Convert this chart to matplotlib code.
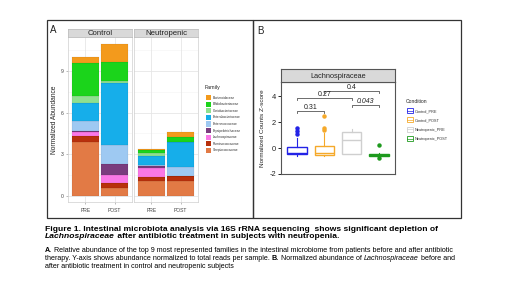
import matplotlib
matplotlib.use('Agg')
import matplotlib.pyplot as plt
from matplotlib.patches import Rectangle
from matplotlib import font_manager

W, H = 520, 292

# panel A: stacked family abundances (legend order)
families = ['Bacteroidaceae', 'Bifidobacteriaceae', 'Coriobacteriaceae', 'Enterobacteriaceae',
            'Enterococcaceae', 'Erysipelotrichaceae', 'Lachnospiraceae', 'Ruminococcaceae',
            'Streptococcaceae']
family_colors = ['#F39A1C', '#1BD41B', '#8FE08F', '#16AEEA', '#9EC9F2', '#7A3C7E',
                 '#FA78E6', '#B8300C', '#E27A45']
control_pre = [0.45, 2.33, 0.55, 1.25, 0.72, 0.10, 0.25, 0.43, 3.91]
control_post = [1.32, 1.34, 0.17, 4.44, 1.37, 0.79, 0.60, 0.36, 0.55]
neutro_pre = [0.07, 0.24, 0.17, 0.65, 0.05, 0.19, 0.65, 0.31, 1.03]
neutro_post = [0.41, 0.36, 0.00, 1.75, 0.67, 0.00, 0.00, 0.36, 1.08]
timepoints = ['PRE', 'POST']
facets = ['Control', 'Neutropenic']

# panel B: Lachnospiraceae z-scores
conditions = ['Control_PRE', 'Control_POST', 'Neutropenic_PRE', 'Neutropenic_POST']
cond_colors = ['#2323E6', '#F5A92A', '#CFCFCF', '#1E9A1E']
box_q1 = [-0.42, -0.55, -0.45, -0.58]
box_med = [-0.35, -0.35, 0.60, -0.50]
box_q3 = [0.05, 0.15, 1.25, -0.45]
whisk_lo = [-0.60, -0.62, -0.45, -0.65]
whisk_hi = [0.75, 1.20, 1.50, -0.40]
fliers = [[1.10, 1.30, 1.55], [1.40, 1.55, 2.50], [], [0.20, -0.80]]
pairs = [(1, 2), (1, 3), (2, 4), (3, 4)]
pair_y = [2.85, 3.87, 4.38, 3.33]
pair_p = ['0.31', '0.27', '0.4', '0.043']

fig = plt.figure(figsize=(W / 100, H / 100), dpi=100)
fig.patch.set_facecolor('white')


def fx(px):
    return px / W


def fy(py):
    return 1 - py / H


def add_ax(x0, y0, x1, y1):
    return fig.add_axes([fx(x0), fy(y1), (x1 - x0) / W, (y1 - y0) / H])


def frame(x0, y0, x1, y1, **kw):
    fig.add_artist(Rectangle((fx(x0), fy(y1)), (x1 - x0) / W, (y1 - y0) / H,
                             transform=fig.transFigure, **kw))


plt.rcParams['font.family'] = ['Liberation Sans', 'DejaVu Sans']

# outer panel boxes
frame(47, 20, 253, 218, fill=False, ec='#333333', lw=0.9)
frame(253, 20, 461, 218, fill=False, ec='#333333', lw=0.9)
fig.text(fx(50), fy(33), 'A', fontsize=7, color='#222222')
fig.text(fx(257), fy(34), 'B', fontsize=7, color='#222222')

# ---- panel A ----
groups = [[control_pre, control_post], [neutro_pre, neutro_post]]
facet_x = [(68, 132), (134, 198)]
for k, (x0, x1) in enumerate(facet_x):
    ax = add_ax(x0, 37, x1, 202)
    ax.set_xlim(0.4, 2.6)
    ax.set_ylim(-0.45, 11.45)
    for yy in [1.5, 4.5, 7.5, 10.5]:
        ax.axhline(yy, color='#F3F3F3', lw=0.4, zorder=0)
    for yy in [0, 3, 6, 9]:
        ax.axhline(yy, color='#E6E6E6', lw=0.6, zorder=0)
    for xx in [1, 2]:
        ax.axvline(xx, color='#E6E6E6', lw=0.6, zorder=0)
    for i, vals in enumerate(groups[k]):
        bottom = 0
        for j in range(len(families) - 1, -1, -1):
            ax.bar(i + 1, vals[j], width=0.9, bottom=bottom, color=family_colors[j],
                   edgecolor='#00000022', lw=0.3, zorder=2)
            bottom += vals[j]
    ax.set_xticks([1, 2])
    ax.set_xticklabels(timepoints, fontsize=3.6, color='#444444')
    ax.tick_params(axis='x', length=1.5, width=0.4, pad=3, color='#888888')
    if k == 0:
        ax.set_yticks([0, 3, 6, 9])
        ax.set_yticklabels(['0', '3', '6', '9'], fontsize=3.6, color='#444444')
        ax.tick_params(axis='y', length=1.5, width=0.4, pad=1.5, color='#888888')
        ax.set_ylabel('Normalized Abundance', fontsize=4.8, color='#222222', labelpad=2)
    else:
        ax.set_yticks([])
    for s in ax.spines.values():
        s.set_color('#CFCFCF')
        s.set_linewidth(0.5)
    sax = add_ax(x0, 29, x1, 37)
    sax.set_facecolor('#D9D9D9')
    sax.set_xticks([])
    sax.set_yticks([])
    for s in sax.spines.values():
        s.set_color('#BBBBBB')
        s.set_linewidth(0.5)
    sax.text(0.5, 0.45, facets[k], transform=sax.transAxes, ha='center', va='center',
             fontsize=5.6, color='#222222')

# family legend
fig.text(fx(205), fy(89), 'Family', fontsize=3.8, color='#222222')
for j, name in enumerate(families):
    yy = 95 + j * 6.6
    frame(205.5, yy, 211, yy + 5.2, fc=family_colors[j], ec='none')
    fig.text(fx(212.5), fy(yy + 3.6), name, fontsize=2.3, color='#333333')

# ---- panel B ----
ax = add_ax(281, 82, 395, 174)
ax.set_xlim(0.4, 4.6)
ax.set_ylim(-2, 5.1)
stats = []
for i in range(len(conditions)):
    stats.append(dict(med=box_med[i], q1=box_q1[i], q3=box_q3[i], whislo=whisk_lo[i],
                      whishi=whisk_hi[i], fliers=fliers[i], label=conditions[i]))
for i, st in enumerate(stats):
    c = cond_colors[i]
    ax.bxp([st], positions=[i + 1], widths=0.73, showfliers=True, patch_artist=True,
           boxprops=dict(facecolor='white', edgecolor=c, lw=1.0),
           medianprops=dict(color=c, lw=1.0),
           whiskerprops=dict(color=c, lw=0.8), capprops=dict(color=c, lw=0),
           flierprops=dict(marker='o', markerfacecolor=c, markeredgecolor=c, markersize=2.2))
for (a, b), yy, p in zip(pairs, pair_y, pair_p):
    ax.plot([a, a, b, b], [yy - 0.15, yy, yy, yy - 0.15], color='#555555', lw=0.6)
    ax.text((a + b) / 2, yy + 0.02, p, ha='center', va='bottom', fontsize=5.0,
            color='#222222', style='italic' if p == '0.043' else 'normal')
ax.set_xticks([])
ax.set_yticks([-2, 0, 2, 4])
ax.set_yticklabels(['-2', '0', '2', '4'], fontsize=5.4, color='#222222')
ax.tick_params(axis='y', length=2.5, width=0.6, pad=1)
ax.set_ylabel('Normalized Counts Z-score', fontsize=4.6, color='#222222', labelpad=3)
for s in ax.spines.values():
    s.set_color('#555555')
    s.set_linewidth(0.8)
sax = add_ax(281, 69, 395, 82)
sax.set_facecolor('#D9D9D9')
sax.set_xticks([])
sax.set_yticks([])
for s in sax.spines.values():
    s.set_color('#555555')
    s.set_linewidth(0.8)
sax.text(0.5, 0.45, 'Lachnospiraceae', transform=sax.transAxes, ha='center', va='center',
         fontsize=5.3, color='#222222')

fig.text(fx(406), fy(103), 'Condition', fontsize=3.6, color='#222222')
for i, name in enumerate(conditions):
    yy = 108 + i * 9.4
    frame(407, yy, 413, yy + 5, fc='white', ec=cond_colors[i], lw=0.6)
    fig.add_artist(plt.Line2D([fx(407), fx(413)], [fy(yy + 2.5)] * 2, color=cond_colors[i],
                              lw=0.5, transform=fig.transFigure))
    fig.text(fx(415), fy(yy + 4), name, fontsize=2.8, color='#333333')

# ---- caption ----
names = {f.name for f in font_manager.fontManager.ttflist}
cap_font = ['Liberation Sans Narrow', 'Liberation Sans'] if 'Liberation Sans Narrow' in names \
    else ['Liberation Sans', 'DejaVu Sans']
renderer = fig.canvas.get_renderer()


def rich(x, y, pieces, size, draw=True):
    start = x
    for txt, weight, style in pieces:
        t = fig.text(fx(x), fy(y), txt, fontsize=size, fontweight=weight, fontstyle=style,
                     family=cap_font, va='baseline', ha='left', color='black')
        x += t.get_window_extent(renderer).width
        if not draw:
            t.remove()
    return x - start


title1 = [('Figure 1. Intestinal microbiota analysis via 16S rRNA sequencing  shows significant depletion of', 'bold', 'normal')]
title2 = [('Lachnospiraceae', 'bold', 'italic'),
          (' after antibiotic treatment in subjects with neutropenia.', 'bold', 'normal')]
body1 = [('A.', 'bold', 'normal'),
         (' Relative abundance of the top 9 most represented families in the intestinal microbiome from patients before and after antibiotic', 'normal', 'normal')]
body2 = [('therapy. Y-axis shows abundance normalized to total reads per sample. ', 'normal', 'normal'),
         ('B.', 'bold', 'normal'), (' Normalized abundance of ', 'normal', 'normal'),
         ('Lachnospiraceae', 'normal', 'italic'), (' before and', 'normal', 'normal')]
body3 = [('after antibiotic treatment in control and neutropenic subjects', 'normal', 'normal')]

ts = 10 * 388 / rich(0, 0, title1, 10, draw=False)
bs = 10 * 412 / rich(0, 0, body1, 10, draw=False)
rich(45, 230.7, title1, ts)
rich(45, 238.5, title2, ts)
rich(45, 252, body1, bs)
rich(45, 260.5, body2, bs)
rich(45, 268.5, body3, bs)

fig.savefig('out.png', dpi=100)
